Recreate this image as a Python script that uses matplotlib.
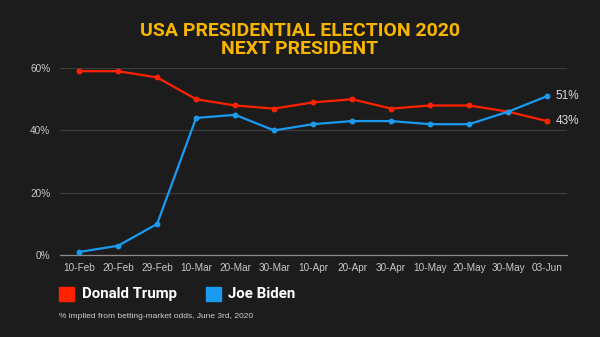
import matplotlib.pyplot as plt
from matplotlib.patches import Rectangle

# data
dates = ["10-Feb", "20-Feb", "29-Feb", "10-Mar", "20-Mar", "30-Mar", "10-Apr",
         "20-Apr", "30-Apr", "10-May", "20-May", "30-May", "03-Jun"]
trump = [59, 59, 57, 50, 48, 47, 49, 50, 47, 48, 48, 46, 43]
biden = [1, 3, 10, 44, 45, 40, 42, 43, 43, 42, 42, 46, 51]
y_ticks = [0, 20, 40, 60]

BG = "#1c1c1c"
RED = "#ff2200"
BLUE = "#1a9bf0"
TITLE = "#f7b500"

plt.rcParams['font.family'] = ['Liberation Sans', 'DejaVu Sans']

fig = plt.figure(figsize=(6, 3.37), dpi=100, facecolor=BG)
ax = fig.add_axes([0.1, 0.243, 0.845, 0.555], facecolor=BG)

x = list(range(len(dates)))
ax.plot(x, trump, color=RED, lw=1.6, marker="o", ms=3.2, zorder=3)
ax.plot(x, biden, color=BLUE, lw=1.6, marker="o", ms=3.2, zorder=3)

ax.set_xlim(-0.49, 12.51)
ax.set_ylim(0, 60)
ax.set_yticks(y_ticks)
ax.set_yticklabels([f"{v}%" for v in y_ticks])
ax.set_xticks(x)
ax.set_xticklabels(dates)
ax.tick_params(axis="both", length=0, colors="#c8c8c8", labelsize=7.2)
ax.tick_params(axis="x", pad=6)
ax.tick_params(axis="y", pad=7)
ax.grid(axis="y", color="#3c3c3c", lw=0.9)
ax.set_axisbelow(True)
for s in ["top", "right", "left"]:
    ax.spines[s].set_visible(False)
ax.spines["bottom"].set_color("#8a8a8a")
ax.spines["bottom"].set_linewidth(0.9)

# end labels
ax.annotate(f"{biden[-1]}%", (x[-1], biden[-1]), xytext=(6, 0), textcoords="offset points",
            va="center", ha="left", color="#dddddd", fontsize=8.5)
ax.annotate(f"{trump[-1]}%", (x[-1], trump[-1]), xytext=(6, 0), textcoords="offset points",
            va="center", ha="left", color="#dddddd", fontsize=8.5)

fig.text(0.5, 1 - 40.5 / 337, "USA PRESIDENTIAL ELECTION 2020\nNEXT PRESIDENT", ha="center",
         va="center", color=TITLE, fontsize=14, fontweight="bold", linespacing=1.0,
         family=["Roboto", "DejaVu Sans"])

# legend
fig.patches.append(Rectangle((59 / 600, 1 - 301 / 337), 15 / 600, 14 / 337,
                             transform=fig.transFigure, color=RED))
fig.text(82 / 600, 1 - 294 / 337, "Donald Trump", color="white", fontsize=10.8,
         fontweight="bold", va="center", family=["Roboto", "DejaVu Sans"])
fig.patches.append(Rectangle((206 / 600, 1 - 301 / 337), 15 / 600, 14 / 337,
                             transform=fig.transFigure, color=BLUE))
fig.text(228 / 600, 1 - 294 / 337, "Joe Biden", color="white", fontsize=10.8,
         fontweight="bold", va="center", family=["Roboto", "DejaVu Sans"])

fig.text(59 / 600, 1 - 317 / 337, "% implied from betting-market odds, June 3rd, 2020",
         color="#cfcfcf", fontsize=6.0, va="center")

fig.savefig("out.png", dpi=100, facecolor=BG)
